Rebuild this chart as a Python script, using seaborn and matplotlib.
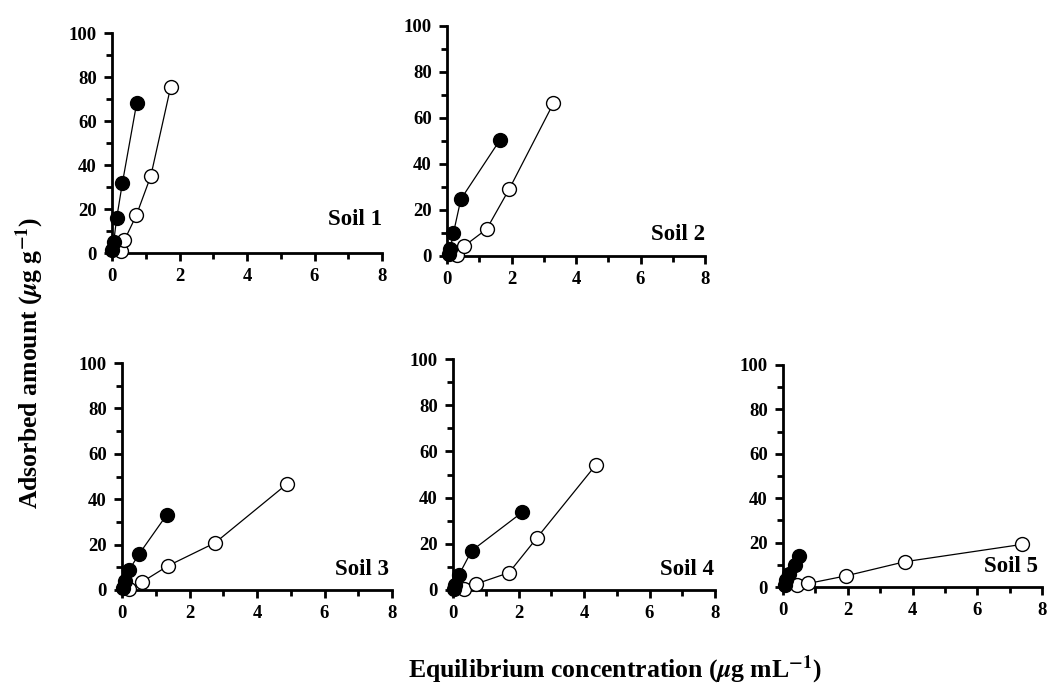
import matplotlib
matplotlib.use("Agg")
import matplotlib.pyplot as plt
from matplotlib.ticker import MultipleLocator
import seaborn as sns
import pandas as pd

# ============================================================
# DATA
# ============================================================
soils = ["Soil 1", "Soil 2", "Soil 3", "Soil 4", "Soil 5"]

filled_x = [
    [0.0, 0.05, 0.14, 0.31, 0.73],
    [0.05, 0.1, 0.2, 0.43, 1.64],
    [0.03, 0.1, 0.21, 0.50, 1.32],
    [0.02, 0.07, 0.18, 0.57, 2.11],
    [0.05, 0.1, 0.2, 0.36, 0.50],
]
filled_y = [
    [1.5, 5.0, 16.0, 32.0, 68.0],
    [1.0, 3.0, 10.0, 24.7, 50.4],
    [1.0, 4.0, 8.8, 15.7, 33.0],
    [0.5, 2.0, 6.5, 17.0, 33.6],
    [1.0, 3.0, 6.0, 10.0, 14.1],
]
open_x = [
    [0.27, 0.37, 0.72, 1.15, 1.74],
    [0.3, 0.53, 1.23, 1.93, 3.30],
    [0.2, 0.58, 1.37, 2.76, 4.88],
    [0.35, 0.70, 1.71, 2.57, 4.36],
    [0.42, 0.78, 1.94, 3.77, 7.39],
]
open_y = [
    [1.0, 5.9, 17.1, 35.0, 75.6],
    [0.5, 4.3, 11.7, 29.1, 66.4],
    [0.5, 3.4, 10.7, 20.8, 46.6],
    [0.4, 2.6, 7.5, 22.7, 54.1],
    [0.8, 1.6, 5.0, 11.4, 19.2],
]

# ============================================================
# LAYOUT (pixel boxes: left, top, right, bottom)
# ============================================================
W, H = 1049, 688
boxes = [
    (112, 33, 382, 253),
    (447, 26, 705, 256),
    (122, 363, 392, 590),
    (453, 359, 715, 590),
    (783, 365, 1042, 587),
]
label_pos = [(1.0, 0.105), (1.0, 0.048), (0.99, 0.044), (0.995, 0.043), (0.985, 0.045)]

sns.set_style("ticks")
plt.rcParams["font.family"] = ["Liberation Serif", "DejaVu Serif"]
plt.rcParams["font.weight"] = "bold"
plt.rcParams["mathtext.fontset"] = "stix"
plt.rcParams["text.color"] = "black"
plt.rcParams["xtick.color"] = "black"
plt.rcParams["ytick.color"] = "black"

fig = plt.figure(figsize=(W / 100, H / 100), dpi=100)
fig.patch.set_facecolor("white")

for i, name in enumerate(soils):
    l, t, r, b = boxes[i]
    ax = fig.add_axes([l / W, 1 - b / H, (r - l) / W, (b - t) / H])

    df_f = pd.DataFrame({"x": filled_x[i], "y": filled_y[i]})
    df_o = pd.DataFrame({"x": open_x[i], "y": open_y[i]})

    sns.lineplot(data=df_o, x="x", y="y", ax=ax, sort=False, estimator=None,
                 color="black", lw=0.9, marker="o", markersize=10,
                 markerfacecolor="white", markeredgecolor="black",
                 markeredgewidth=1.0, clip_on=False, zorder=3)
    sns.lineplot(data=df_f, x="x", y="y", ax=ax, sort=False, estimator=None,
                 color="black", lw=0.9, marker="o", markersize=10,
                 markerfacecolor="black", markeredgecolor="black",
                 markeredgewidth=1.0, clip_on=False, zorder=4)

    ax.set_xlim(0, 8)
    ax.set_ylim(0, 100)
    ax.xaxis.set_major_locator(MultipleLocator(2))
    ax.xaxis.set_minor_locator(MultipleLocator(1))
    ax.yaxis.set_major_locator(MultipleLocator(20))
    ax.yaxis.set_minor_locator(MultipleLocator(10))
    ax.set_xlabel("")
    ax.set_ylabel("")
    ax.set_facecolor("white")

    sns.despine(ax=ax)
    for s in ["left", "bottom"]:
        ax.spines[s].set_linewidth(2.0)
        ax.spines[s].set_color("black")
    ax.tick_params(which="major", direction="out", length=6, width=2.0,
                   labelsize=13.5, pad=5, colors="black")
    ax.tick_params(which="minor", direction="out", length=4, width=2.0,
                   colors="black")
    for lab in ax.get_xticklabels() + ax.get_yticklabels():
        lab.set_fontweight("bold")

    lx, ly = label_pos[i]
    ax.text(lx, ly, name, transform=ax.transAxes, ha="right", va="bottom",
            fontsize=16.5, fontweight="bold", color="black", zorder=5)

fig.text(30 / W, 1 - 363 / H, r"Adsorbed amount ($\mu$g g$^{-1}$)",
         rotation=90, ha="center", va="center", fontsize=18.5,
         fontweight="bold", color="black")
fig.text(615 / W, 1 - 670 / H, r"Equilibrium concentration ($\mu$g mL$^{-1}$)",
         ha="center", va="center", fontsize=18.5, fontweight="bold",
         color="black")

fig.savefig("out.png", dpi=100, facecolor="white")
